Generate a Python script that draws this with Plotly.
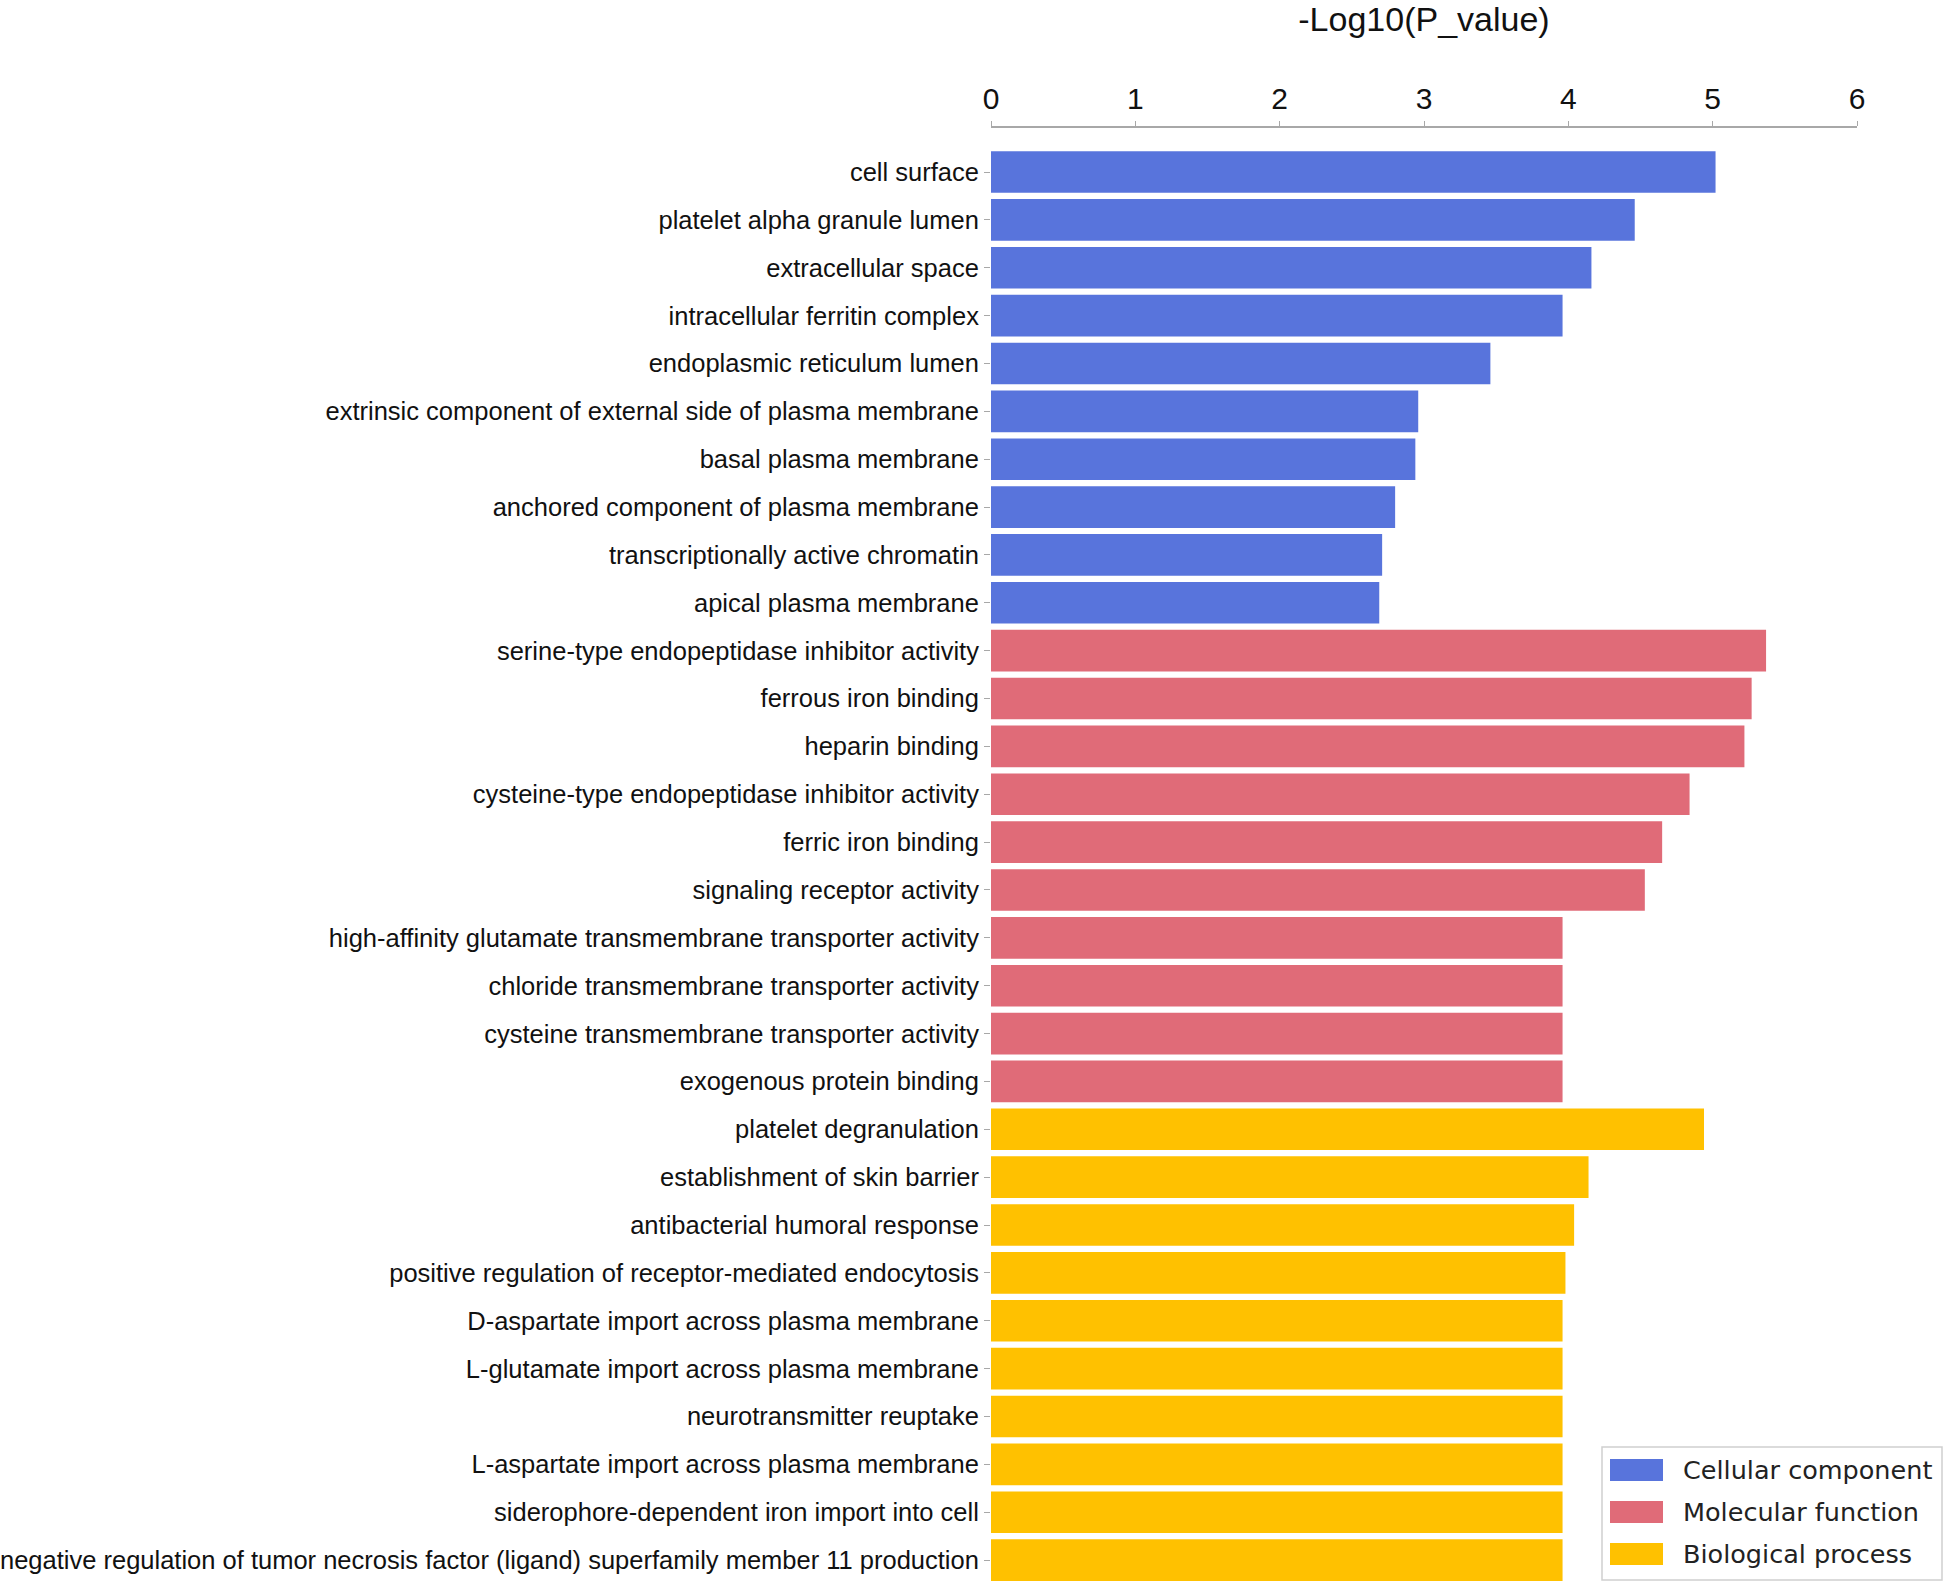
"""Horizontal bar chart of GO enrichment terms (-Log10 P value)."""

import plotly.graph_objects as go

BLUE = "#5874DC"
RED = "#E06B78"
YELLOW = "#FFC100"

cc_terms = [
    "cell surface",
    "platelet alpha granule lumen",
    "extracellular space",
    "intracellular ferritin complex",
    "endoplasmic reticulum lumen",
    "extrinsic component of external side of plasma membrane",
    "basal plasma membrane",
    "anchored component of plasma membrane",
    "transcriptionally active chromatin",
    "apical plasma membrane",
]
cc_values = [5.02, 4.46, 4.16, 3.96, 3.46, 2.96, 2.94, 2.80, 2.71, 2.69]

mf_terms = [
    "serine-type endopeptidase inhibitor activity",
    "ferrous iron binding",
    "heparin binding",
    "cysteine-type endopeptidase inhibitor activity",
    "ferric iron binding",
    "signaling receptor activity",
    "high-affinity glutamate transmembrane transporter activity",
    "chloride transmembrane transporter activity",
    "cysteine transmembrane transporter activity",
    "exogenous protein binding",
]
mf_values = [5.37, 5.27, 5.22, 4.84, 4.65, 4.53, 3.96, 3.96, 3.96, 3.96]

bp_terms = [
    "platelet degranulation",
    "establishment of skin barrier",
    "antibacterial humoral response",
    "positive regulation of receptor-mediated endocytosis",
    "D-aspartate import across plasma membrane",
    "L-glutamate import across plasma membrane",
    "neurotransmitter reuptake",
    "L-aspartate import across plasma membrane",
    "siderophore-dependent iron import into cell",
    "negative regulation of tumor necrosis factor (ligand) superfamily member 11 production",
]
bp_values = [4.94, 4.14, 4.04, 3.98, 3.96, 3.96, 3.96, 3.96, 3.96, 3.96]

groups = [
    ("Cellular component", cc_terms, cc_values, BLUE),
    ("Molecular function", mf_terms, mf_values, RED),
    ("Biological process", bp_terms, bp_values, YELLOW),
]

x_ticks = [0, 1, 2, 3, 4, 5, 6]

# plot area in pixels
W, H = 1944, 1586
PL, PR, PT, PB = 991, 1857, 128, 1584

LABEL_FONT = "Liberation Sans, Arial, sans-serif"


def px_x(px):
    return (px - PL) / (PR - PL)


def px_y(py):
    return (PB - py) / (PB - PT)


fig = go.Figure()
all_terms = []
for name, terms, values, color in groups:
    all_terms += terms
    fig.add_trace(
        go.Bar(
            name=name,
            x=values,
            y=terms,
            orientation="h",
            marker_color=color,
            marker_line_width=0,
            showlegend=False,
        )
    )

fig.update_layout(
    width=W,
    height=H,
    margin=dict(l=PL, r=W - PR, t=PT, b=H - PB, pad=0),
    plot_bgcolor="white",
    paper_bgcolor="white",
    bargap=0.13,
    font=dict(family=LABEL_FONT, color="#222222"),
)

fig.update_xaxes(
    side="top",
    range=[0, 6],
    tickvals=x_ticks,
    showgrid=False,
    zeroline=False,
    showline=True,
    linecolor="#A8A8A8",
    linewidth=1.5,
    ticks="outside",
    ticklen=5,
    tickcolor="#A8A8A8",
    tickfont=dict(size=30, family=LABEL_FONT, color="#111111"),
    title=dict(text="-Log10(P_value)", font=dict(size=34, family=LABEL_FONT, color="#111111"), standoff=42),
    automargin=False,
)

fig.update_yaxes(
    type="category",
    categoryorder="array",
    categoryarray=all_terms,
    range=[29.5, -0.92],
    showgrid=False,
    zeroline=False,
    showline=False,
    ticks="outside",
    ticklen=6,
    tickcolor="#A8A8A8",
    tickfont=dict(size=25.5, family=LABEL_FONT, color="#111111"),
    automargin=False,
)

# legend drawn by hand so the swatches are wide rectangles
fig.add_shape(
    type="rect", xref="paper", yref="paper",
    x0=px_x(1602), x1=px_x(1942), y0=px_y(1580), y1=px_y(1447),
    line=dict(color="#D0D0D0", width=1.5), fillcolor="white", layer="above",
)
row_centers = [1470, 1512, 1554]
for (name, _, _, color), cy in zip(groups, row_centers):
    fig.add_shape(
        type="rect", xref="paper", yref="paper",
        x0=px_x(1610), x1=px_x(1663), y0=px_y(cy + 11), y1=px_y(cy - 11),
        line_width=0, fillcolor=color, layer="above",
    )
    fig.add_annotation(
        xref="paper", yref="paper", x=px_x(1681), y=px_y(cy),
        text=name, showarrow=False, xanchor="left", yanchor="middle",
        font=dict(family="DejaVu Sans", size=25.5, color="#222222"),
    )

# drop the default body margin so the figure sits at the page corner
fig.write_html(
    "out.html",
    config={"displayModeBar": False},
    post_script="document.body.style.margin='0';document.body.style.overflow='hidden';",
)
